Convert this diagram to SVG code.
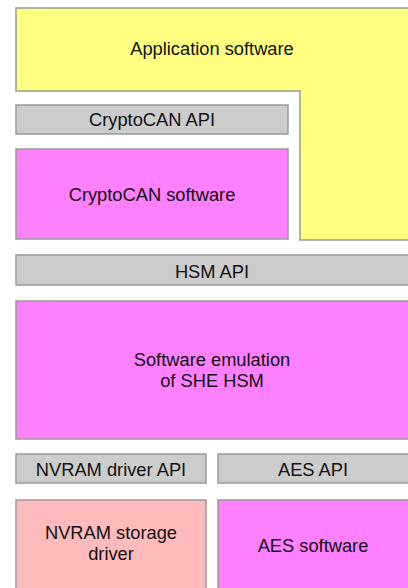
<svg xmlns="http://www.w3.org/2000/svg" width="408" height="588" viewBox="0 0 408 588">
<style>
.box{stroke:#999;stroke-width:1.5}
.yel{fill:#ffff80}
.gry{fill:#cccccc}
.mag{fill:#ff80ff}
.pnk{fill:#ffbbbb}
text{font-family:"Liberation Sans",Arial,sans-serif;font-size:18.3px;fill:#111;text-anchor:middle}
</style>
<rect width="408" height="588" fill="#fff"/>
<g id="app">
<path class="box yel" d="M16,8 H420 V240 H300 V91 H16 Z"/>
<text x="212" y="55">Application software</text>
</g>
<g id="cryptocan-api">
<rect class="box gry" x="16" y="105" width="272" height="29"/>
<text x="152" y="126">CryptoCAN API</text>
</g>
<g id="cryptocan-sw">
<rect class="box mag" x="16" y="149" width="272" height="90"/>
<text x="152" y="201">CryptoCAN software</text>
</g>
<g id="hsm-api">
<rect class="box gry" x="16" y="255" width="404" height="30"/>
<text x="212" y="278">HSM API</text>
</g>
<g id="she">
<rect class="box mag" x="16" y="301" width="404" height="138"/>
<text x="212" y="365.5">Software emulation</text>
<text x="212" y="387">of SHE HSM</text>
</g>
<g id="nvram-api">
<rect class="box gry" x="16" y="454" width="190" height="29"/>
<text x="111" y="475.5">NVRAM driver API</text>
</g>
<g id="aes-api">
<rect class="box gry" x="218" y="454" width="202" height="29"/>
<text x="313" y="475.5">AES API</text>
</g>
<g id="nvram-drv">
<rect class="box pnk" x="16" y="500" width="190" height="100"/>
<text x="111" y="539">NVRAM storage</text>
<text x="111" y="559.5">driver</text>
</g>
<g id="aes-sw">
<rect class="box mag" x="218" y="500" width="202" height="100"/>
<text x="313" y="551.5">AES software</text>
</g>
<g id="connectors"></g>
</svg>
